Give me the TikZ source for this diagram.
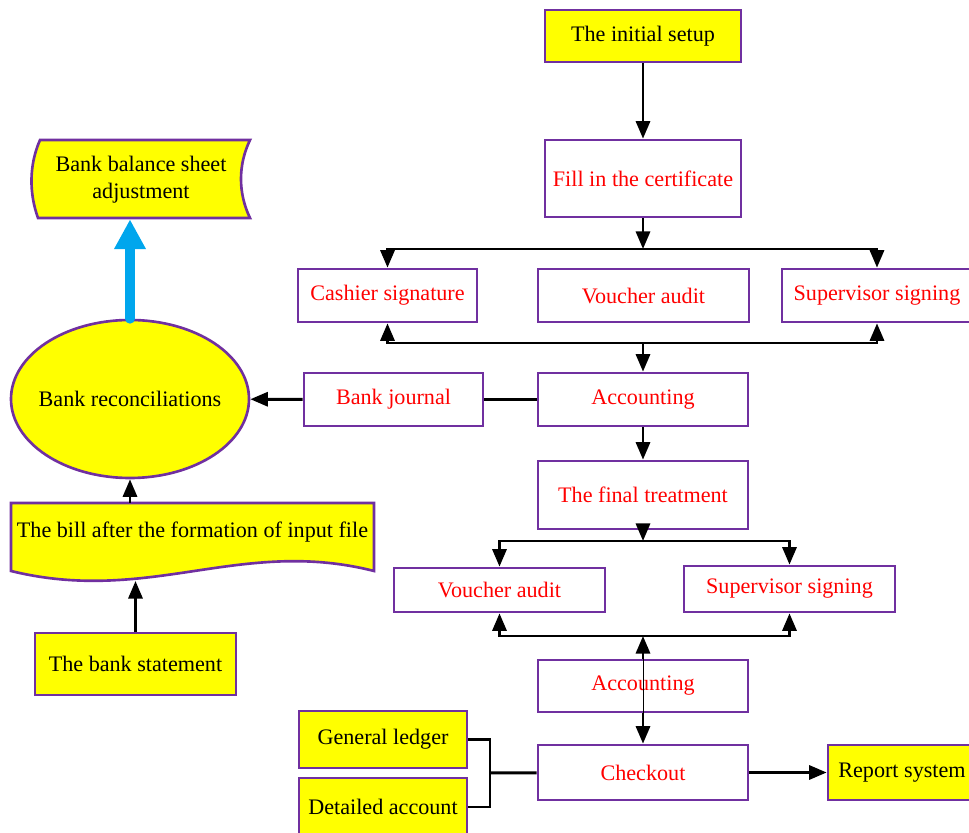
\documentclass[tikz,border=0pt]{standalone}
\usepackage{fontspec}
\setmainfont{Liberation Serif}
\usepackage{tikz}
\usetikzlibrary{shapes.geometric, arrows.meta, positioning, calc}
\usepackage{xcolor}
\definecolor{boxline}{RGB}{112,48,160}
\definecolor{boxyellow}{RGB}{255,255,0}
\definecolor{bigarrow}{RGB}{0,166,237}

\begin{document}
\begin{tikzpicture}[x=0.2mm, y=-0.2mm,
    wh/.style 2 args={minimum width=#1*0.2mm, minimum height=#2*0.2mm},
    procbox/.style={draw=boxline, line width=1.5pt, fill=white, text=red,
      font=\fontsize{12.6}{15.3}\selectfont, inner sep=0pt},
    databox/.style={procbox, fill=boxyellow, text=black},
    shapeline/.style={draw=boxline, fill=boxyellow, line width=1.5pt},
    txt/.style={font=\fontsize{12.6}{15.3}\selectfont, align=center, inner sep=0pt},
    link/.style={line width=1.7pt},
    arr/.style={link, -{Triangle[length=10pt,width=8pt]}}]
  \useasboundingbox (0,0) rectangle (969,833);

  % main column
  \node[databox, wh={196}{52}] (init) at (643,36) {The initial setup};
  \node[procbox, wh={196}{77}] (cert) at (643,178.5) {Fill in the certificate};
  \node[procbox, wh={179}{53}] (cash) at (387.5,295.5) {Cashier signature};
  \node[procbox, wh={211}{53}] (vaud) at (643.5,295.5) {Voucher audit};
  \node[procbox, wh={190}{53}] (sup) at (877,295.5) {Supervisor signing};
  \node[procbox, wh={210}{53}] (acc) at (643,399.5) {Accounting};
  \node[procbox, wh={179}{53}] (bjour) at (393.5,399.5) {Bank journal};
  \node[procbox, wh={210}{68}] (final) at (643,495) {The final treatment};
  \node[procbox, wh={211}{44}] (vaud2) at (499.5,590) {Voucher audit};
  \node[procbox, wh={211}{46}] (sup2) at (789.5,589) {Supervisor signing};
  \node[procbox, wh={210}{52}] (acc2) at (643,686) {Accounting};
  \node[procbox, wh={210}{55}] (check) at (643,772.5) {Checkout};
  \node[databox, wh={148}{55}] (report) at (902,772.5) {Report system};
  \node[databox, wh={168}{57}] (ledger) at (383,739.5) {General ledger};
  \node[databox, wh={168}{58}] (detail) at (383,807) {Detailed account};

  % left column
  \node[databox, ellipse, wh={238}{158},
    label={[txt]center:Bank reconciliations}] (recon) at (130,399) {};
  \node[databox, wh={201}{62}] (stmt) at (135.5,664) {The bank statement};
  \filldraw[shapeline] (40,140) -- (250,140) .. controls (238,165) and (238,193) .. (250,218)
    -- (38,218) .. controls (29,193) and (29,165) .. (40,140) -- cycle;
  \node[txt, wh={205}{78}] (baladj) at (141,180) {Bank balance sheet\\adjustment};
  \filldraw[shapeline] (11,503) -- (374,503) -- (374,571)
    .. controls (240,537) and (150,605) .. (11,571) -- cycle;
  \node[txt, wh={363}{58}] (bill) at (192.5,532) {The bill after the formation of input file};

  \coordinate (fork1) at (643,249);
  \coordinate (join1) at (643,343);
  \coordinate (fork2) at (643,541);
  \coordinate (join2) at (643,636);
  \coordinate (brk) at (490,773);
  \coordinate (billbot) at (135.5,581);

  % connectors
  \draw[arr] (init) -- (cert);
  \draw[arr] (cert) -- (fork1);
  \foreach \b in {cash,sup} \draw[arr] (fork1) -| (\b.north);
  \foreach \b in {cash,sup} \draw[arr] (join1) -| (\b.south);
  \draw[arr] (join1) -- (acc);
  \draw[link] (acc) -- (bjour);
  \draw[arr] (bjour) -- (recon);
  \draw[arr] (acc) -- (final);
  \draw[arr] (final) -- (fork2);
  \foreach \b in {vaud2,sup2} \draw[arr] (fork2) -| (\b.north);
  \foreach \b in {vaud2,sup2} \draw[arr] (join2) -| (\b.south);
  \draw[arr] (acc2) -- (join2);
  \draw[line width=0.5pt] (acc2.north) -- (acc2.south);
  \draw[arr] (acc2) -- (check);
  \draw[link] (ledger) -| (brk) |- (detail);
  \draw[link] (brk) -- (check);
  \draw[arr] (check) -- (report);
  \draw[arr] (stmt) -- (billbot);
  \draw[arr] (bill.north -| recon.south) -- (recon);
  \draw[bigarrow, line width=5.7pt, line cap=round, -{Triangle[length=17pt,width=17pt]}]
    (recon.north) -- (recon.north |- baladj.south);
\end{tikzpicture}
\end{document}
